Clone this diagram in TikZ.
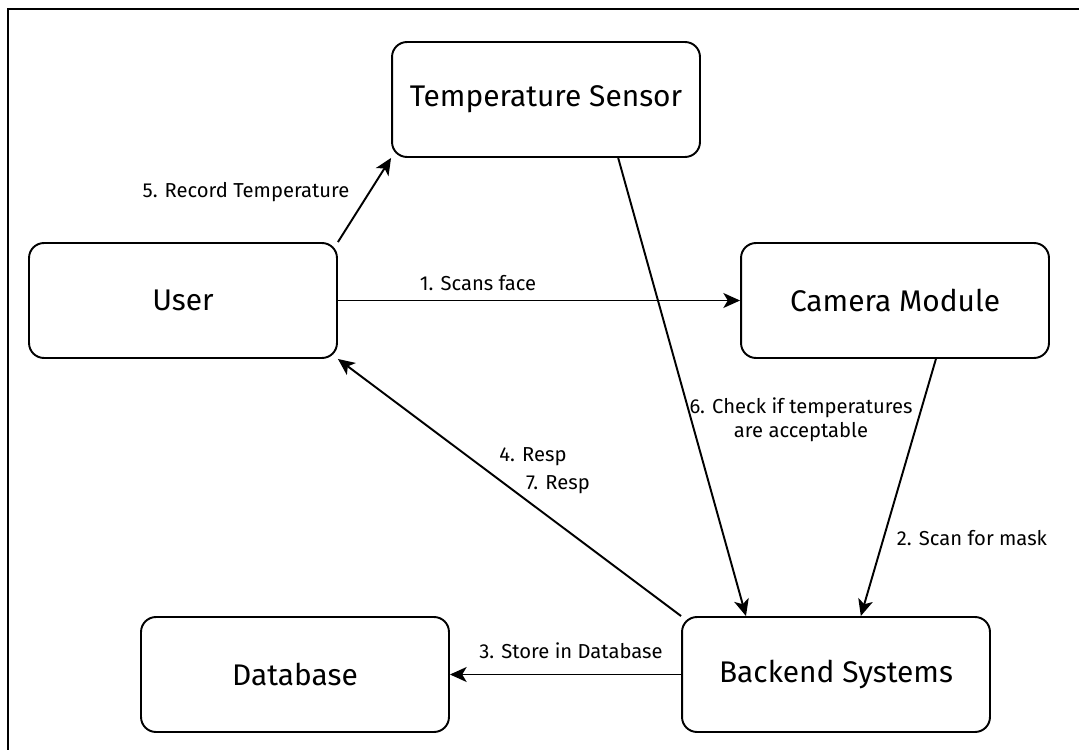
\documentclass[tikz,border=0pt]{standalone}
\usepackage{fontspec}
\setmainfont{Fira Sans}
\usetikzlibrary{arrows.meta}
\begin{document}
\begin{tikzpicture}[x=0.02cm,y=-0.02cm,
  box/.style={draw,line width=1.1pt,rounded corners=8.5pt,minimum width=6.16cm,minimum height=2.3cm,font=\fontsize{17}{20}\selectfont},
  lbl/.style={font=\fontsize{11.5}{13.5}\selectfont,align=center,inner sep=0pt},
  arr/.style={-{Stealth[length=9.5pt,width=8.5pt,inset=2.5pt]},line width=1.1pt}]
\useasboundingbox (0,0) rectangle (1079,750);
\draw[line width=1.5pt] (8,750)--(8,9)--(1079,9);
\node[box] (temp) at (546,99.5){Temperature Sensor};
\node[box] (user) at (183,300.5){User};
\node[box] (cam) at (895,300.5){Camera Module};
\node[box] (db) at (295,674.5){Database};
\node[box] (back) at (836,674.5){Backend Systems};
\draw[arr](user.north east)--(temp.south west);
\draw[arr](user.east)--(cam.west);
\draw[arr](temp.-39)--(back.147.7);
\draw[arr](cam.-55.2)--(back.67.3);
\draw[arr](back.north west)--(user.south east);
\draw[arr](back.west)--(db.east);
\node[lbl] (l5) at (246,192){5. Record Temperature};
\node[lbl] (l1) at (478,283){1. Scans face};
\node[lbl] (l6) at (801,420){6. Check if temperatures\\are acceptable};
\node[lbl] (l2) at (972,538){2. Scan for mask};
\node[lbl] (l4) at (533,457){4. Resp};
\node[lbl] (l7) at (558,485){7. Resp};
\node[lbl] (l3) at (571,651){3. Store in Database};
\end{tikzpicture}
\end{document}
